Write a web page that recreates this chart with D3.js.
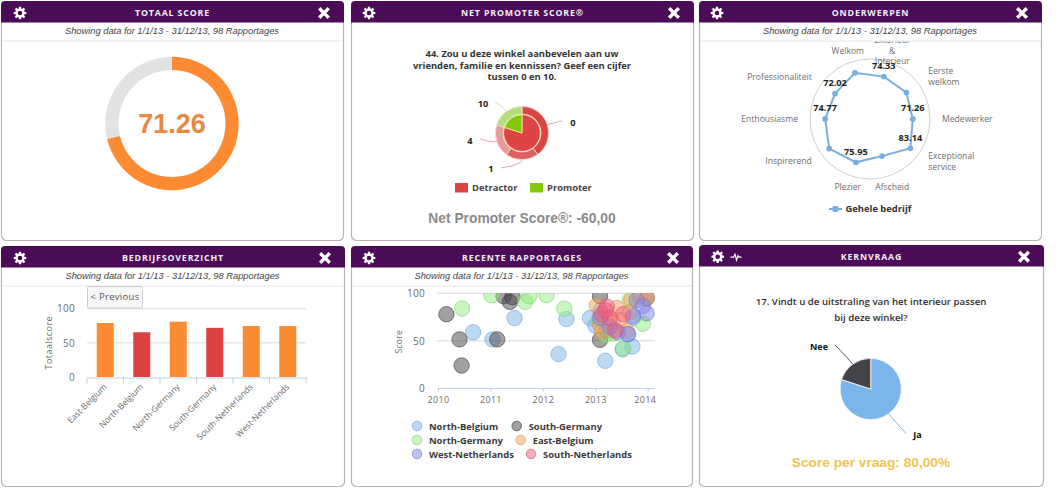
<!DOCTYPE html>
<html>
<head>
<meta charset="utf-8">
<script src="https://cdnjs.cloudflare.com/ajax/libs/d3/7.8.5/d3.min.js"></script>
<style>
  html, body { margin: 0; padding: 0; background: #fff; overflow: hidden; }
  svg { display: block; }
  text { font-family: "Liberation Sans", Arial, sans-serif; }
</style>
</head>
<body>
<svg id="board" width="1064" height="497"></svg>
<script>
// Dashboard values
const totalScore = 71.26;
const dateLine = "Showing data for 1/1/13 - 31/12/13, 98 Rapportages";

const npsQuestion = ["44. Zou u deze winkel aanbevelen aan uw", "vrienden, familie en kennissen? Geef een cijfer", "tussen 0 en 10."];
const npsGroups = ["Detractor", "Promoter"];
const npsGroupShares = [80, 20];
const npsAnswers = ["0", "1", "4", "10"];
const npsAnswerShares = [40, 20, 20, 20];
const npsScoreText = "Net Promoter Score®: -60,00";

const topics = [["Exterieur", "&", "Interieur"], ["Eerste", "welkom"], ["Medewerker"], ["Exceptional", "service"], ["Afscheid"], ["Plezier"], ["Inspirerend"], ["Enthousiasme"], ["Professionaliteit"], ["Welkom"]];
const topicScores = [74.33, 75, 71.26, 83.14, 65, 75.95, 84, 74.77, 72.02, 81];
const topicLabelled = [true, false, true, true, false, true, false, true, true, false];

const regions = ["East-Belgium", "North-Belgium", "North-Germany", "South-Germany", "South-Netherlands", "West-Netherlands"];
const regionScores = [79, 65.5, 81, 72, 74.7, 74.7];
const regionBelowTarget = [false, true, false, true, false, false];

const reportSeries = ["North-Belgium", "South-Germany", "North-Germany", "East-Belgium", "West-Netherlands", "South-Netherlands"];
const northBelgiumReports = [[2010.67, 59], [2011.04, 51.5], [2011.46, 74], [2012.3, 36], [2012.45, 73], [2012.9, 74], [2013.0, 66], [2013.19, 29], [2013.52, 41], [2013.71, 44], [2013.63, 57], [2013.72, 74], [2013.1, 82]];
const southGermanyReports = [[2010.16, 78], [2010.41, 51.5], [2010.45, 24], [2011.13, 51.5], [2011.25, 97], [2011.37, 91], [2011.42, 96], [2013.09, 51], [2013.09, 97], [2013.98, 95], [2013.22, 61]];
const northGermanyReports = [[2010.46, 84], [2011.02, 98], [2011.66, 91], [2011.74, 97], [2012.07, 98], [2012.41, 84], [2013.91, 68], [2013.53, 42], [2013.66, 93], [2013.35, 58], [2013.06, 72], [2013.19, 56]];
const eastBelgiumReports = [[2013.03, 87], [2013.6, 61], [2013.41, 84.5], [2013.09, 67], [2013.98, 95], [2013.69, 93], [2013.32, 70], [2013.19, 74], [2013.47, 72], [2013.66, 80], [2013.85, 97], [2013.12, 60]];
const westNetherlandsReports = [[2013.79, 93], [2013.91, 86.6], [2013.98, 79], [2013.62, 57], [2013.28, 64.5], [2013.09, 74], [2013.43, 59], [2013.72, 76]];
const southNetherlandsReports = [[2013.22, 86], [2013.12, 78], [2013.53, 78], [2013.38, 61], [2013.28, 74], [2013.2, 82]];
const reportValues = [northBelgiumReports, southGermanyReports, northGermanyReports, eastBelgiumReports, westNetherlandsReports, southNetherlandsReports];

const keyQuestion = ["17. Vindt u de uitstraling van het interieur passen", "bij deze winkel?"];
const keyAnswers = ["Ja", "Nee"];
const keyShares = [80, 20];
const keyScoreText = "Score per vraag: 80,00%";

// Shared styling
const PURPLE = "#4a0c57", ORANGE = "#fd8b33", RED = "#db4343";
const AXIS_TEXT = "#6b6b6b", LABEL_FONT = '"Open Sans", sans-serif';
const svg = d3.select("#board");
const defs = svg.append("defs");

function gearPath(r) {
  // Cog outline with eight teeth around a central hole
  const teeth = 8, pts = [];
  for (let i = 0; i < teeth; i++) {
    const a = i / teeth * 2 * Math.PI, w = 0.2;
    [[a - w * 1.5, r * 0.72], [a - w * 0.8, r], [a + w * 0.8, r], [a + w * 1.5, r * 0.72]]
      .forEach(([t, q]) => pts.push([q * Math.sin(t), -q * Math.cos(t)]));
  }
  const hole = r * 0.36;
  return "M" + pts.map(p => p.map(v => v.toFixed(2)).join(",")).join("L") + "Z" +
    `M${hole},0A${hole},${hole} 0 1,0 ${-hole},0A${hole},${hole} 0 1,0 ${hole},0Z`;
}

function panel({ id, x0, x1, y0, y1, title, subtitle, gearX, closeX, iconY }) {
  const g = svg.append("g").attr("id", id);
  g.append("rect").attr("x", x0 + 0.5).attr("y", y0 + 0.5).attr("width", x1 - x0).attr("height", y1 - y0)
    .attr("rx", 5).attr("fill", "#fff").attr("stroke", "#b5b5b5").attr("stroke-width", 1.2);
  const hh = 21.5;
  g.append("path").attr("fill", PURPLE)
    .attr("d", `M${x0},${y0 + hh}V${y0 + 4}Q${x0},${y0} ${x0 + 4},${y0}H${x1 + 1 - 4}Q${x1 + 1},${y0} ${x1 + 1},${y0 + 4}V${y0 + hh}Z`);
  g.append("text").attr("x", (x0 + x1) / 2 + 0.5).attr("y", y0 + 11.5).attr("dy", "0.35em")
    .attr("text-anchor", "middle").attr("fill", "#f4eef5")
    .style("font", `700 8.8px ${LABEL_FONT}`).style("letter-spacing", "0.85px").text(title);
  g.append("path").attr("transform", `translate(${gearX},${iconY})`).attr("d", gearPath(6.4))
    .attr("fill", "#fff").attr("fill-rule", "evenodd");
  const c = 3.6;
  g.append("path").attr("transform", `translate(${closeX},${iconY})`)
    .attr("d", `M${-c},${-c}L${c},${c}M${c},${-c}L${-c},${c}`)
    .attr("stroke", "#fff").attr("stroke-width", 3.4).attr("stroke-linecap", "square");
  if (subtitle) {
    g.append("text").attr("x", (x0 + x1) / 2).attr("y", y0 + 30).attr("dy", "0.35em").attr("text-anchor", "middle")
      .attr("fill", "#444").style("font-style", "italic").style("font-size", "9.3px").text(subtitle);
    g.append("line").attr("x1", x0 + 1).attr("x2", x1).attr("y1", y0 + 40).attr("y2", y0 + 40).attr("stroke", "#e6e6e6");
  }
  return g;
}

function multiline(g, lines, cx, firstY, step, font, fill) {
  g.selectAll(null).data(lines).join("text")
    .attr("x", cx).attr("y", (d, i) => firstY + i * step).attr("dy", "0.35em")
    .attr("text-anchor", "middle").attr("fill", fill).style("font", font).text(d => d);
}

// Leader line from a slice edge to its outside label
function leader(g, cx, cy, r, midAngle, lx, ly, colour) {
  const sx = cx + r * Math.sin(midAngle), sy = cy - r * Math.cos(midAngle);
  const ox = cx + (r + 5) * Math.sin(midAngle), oy = cy - (r + 5) * Math.cos(midAngle);
  g.append("path").attr("fill", "none").attr("stroke", colour).attr("stroke-width", 1)
    .attr("d", `M${sx},${sy}Q${ox},${oy} ${lx},${ly}`);
}

/* ---------- Totaal score ---------- */
{
  const g = panel({ id: "total", x0: 1, x1: 343, y0: 1, y1: 240, title: "TOTAAL SCORE", subtitle: dateLine, gearX: 20, closeX: 324, iconY: 13 });
  const c = g.append("g").attr("transform", "translate(172,123.5)");
  const ring = d3.arc().innerRadius(53.5).outerRadius(66.7);
  const turn = d3.scaleLinear().domain([0, 100]).range([0, 2 * Math.PI]);
  c.append("path").attr("fill", "#e2e2e2").attr("d", ring({ startAngle: turn(totalScore), endAngle: turn(100) }));
  c.append("path").attr("fill", ORANGE).attr("d", ring({ startAngle: 0, endAngle: turn(totalScore) }));
  c.append("text").attr("text-anchor", "middle").attr("dy", "0.36em").attr("fill", "#e8873f")
    .style("font-weight", 700).style("font-size", "27px").text(totalScore.toFixed(2));
}

/* ---------- Net Promoter Score ---------- */
{
  const g = panel({ id: "nps", x0: 351, x1: 693, y0: 1, y1: 240, title: "NET PROMOTER SCORE®", gearX: 369, closeX: 674, iconY: 13 });
  multiline(g, npsQuestion, 522, 54, 11.6, `700 9.4px ${LABEL_FONT}`, "#333");

  const cx = 522, cy = 133;
  const pie = d3.pie().sort(null).value(d => d);
  const outerCols = ["#d94545", "#de5f5f", "#e89a9a", "#b6dd7b"];
  const innerCols = ["#dd4545", "#85c80a"];
  const outerSlices = pie(npsAnswerShares);
  const c = g.append("g").attr("transform", `translate(${cx},${cy})`);
  c.selectAll(".outer").data(outerSlices).join("path").attr("class", "outer")
    .attr("d", d3.arc().innerRadius(19).outerRadius(26.7)).attr("fill", (d, i) => outerCols[i])
    .attr("stroke", "#fbe3d8").attr("stroke-width", 0.8);
  c.selectAll(".inner").data(pie(npsGroupShares)).join("path").attr("class", "inner")
    .attr("d", d3.arc().innerRadius(0).outerRadius(18.4)).attr("fill", (d, i) => innerCols[i])
    .attr("stroke", "#f6ecae").attr("stroke-width", 0.8);

  const labelAt = [[573, 123], [491, 169], [470, 141], [483, 104]];
  const ends = [[562, 121], [501, 168], [480, 139], [495.5, 102]];
  const leaderCols = ["#e9a3ad", "#e9a3ad", "#e9a3ad", "#e6d6b6"];
  outerSlices.forEach((s, i) => {
    leader(g, cx, cy, 26.7, (s.startAngle + s.endAngle) / 2, ends[i][0], ends[i][1], leaderCols[i]);
    g.append("text").attr("x", labelAt[i][0]).attr("y", labelAt[i][1]).attr("dy", "0.35em").attr("text-anchor", "middle")
      .attr("fill", "#222").style("font", `700 9.2px ${LABEL_FONT}`).text(npsAnswers[i]);
  });

  const keyX = [455, 530];
  npsGroups.forEach((name, i) => {
    g.append("rect").attr("x", keyX[i]).attr("y", 183).attr("width", 13).attr("height", 9.5).attr("fill", innerCols[i]);
    g.append("text").attr("x", keyX[i] + 17).attr("y", 188).attr("dy", "0.35em").attr("fill", "#444")
      .style("font", `700 9.4px ${LABEL_FONT}`).text(name);
  });
  g.append("text").attr("x", 522).attr("y", 218).attr("dy", "0.35em").attr("text-anchor", "middle").attr("fill", "#8a8a8a")
    .style("font-weight", 700).style("font-size", "13.8px").text(npsScoreText);
}

/* ---------- Onderwerpen radar ---------- */
{
  const g = panel({ id: "topics", x0: 699, x1: 1041, y0: 1, y1: 240, title: "ONDERWERPEN", subtitle: dateLine, gearX: 717, closeX: 1022, iconY: 13 });
  defs.append("clipPath").attr("id", "topicsBody").append("rect").attr("x", 699).attr("y", 41.5).attr("width", 342).attr("height", 198);
  const body = g.append("g").attr("clip-path", "url(#topicsBody)");
  const cx = 870, cy = 119, R = 60;
  const radius = d3.scaleLinear().domain([0, 100]).range([0, R]);
  const angle = d3.scalePoint().domain(d3.range(topics.length + 1)).range([Math.PI / 10, Math.PI / 10 + 2 * Math.PI]);
  const polar = (a, r) => [cx + r * Math.sin(a), cy - r * Math.cos(a)];

  body.append("circle").attr("cx", cx).attr("cy", cy).attr("r", R).attr("fill", "none").attr("stroke", "#cfcfcf");

  topics.forEach((lines, i) => {
    const a = angle(i), [x, y] = polar(a, 72), s = Math.sin(a);
    const anchor = Math.abs(s) < 0.4 ? "middle" : s > 0 ? "start" : "end";
    body.selectAll(null).data(lines).join("text")
      .attr("x", x).attr("y", (d, k) => y + (k - (lines.length - 1) / 2) * 10.7).attr("dy", "0.35em")
      .attr("text-anchor", anchor).attr("fill", "#6e6e6e").style("font", `8.6px ${LABEL_FONT}`).text(d => d);
  });

  const pts = topicScores.map((v, i) => polar(angle(i), radius(v)));
  body.append("path").attr("fill", "none").attr("stroke", "#7baee0").attr("stroke-width", 2)
    .attr("d", d3.line().curve(d3.curveLinearClosed)(pts));
  body.selectAll(".pt").data(pts).join("circle").attr("class", "pt")
    .attr("cx", d => d[0]).attr("cy", d => d[1]).attr("r", 2.9).attr("fill", "#7baee0");
  body.selectAll(".val").data(topicScores.map((v, i) => ({ v, i })).filter(d => topicLabelled[d.i])).join("text").attr("class", "val")
    .attr("x", d => pts[d.i][0]).attr("y", d => pts[d.i][1] - 11).attr("dy", "0.35em").attr("text-anchor", "middle")
    .attr("fill", "#222").style("font", `700 9.2px ${LABEL_FONT}`).text(d => d.v.toFixed(2));

  g.append("line").attr("x1", 829).attr("x2", 842).attr("y1", 209).attr("y2", 209).attr("stroke", "#7baee0").attr("stroke-width", 2);
  g.append("circle").attr("cx", 835.5).attr("cy", 209).attr("r", 3.3).attr("fill", "#7baee0");
  g.append("text").attr("x", 845.5).attr("y", 209).attr("dy", "0.35em").attr("fill", "#333")
    .style("font", `700 9.4px ${LABEL_FONT}`).text("Gehele bedrijf");
}

/* ---------- Bedrijfsoverzicht bars ---------- */
function styleAxisText(sel) {
  sel.attr("fill", AXIS_TEXT).style("font", `10px ${LABEL_FONT}`).style("letter-spacing", "0.3px");
}
{
  const g = panel({ id: "companies", x0: 1, x1: 344, y0: 246, y1: 486, title: "BEDRIJFSOVERZICHT", subtitle: dateLine, gearX: 20, closeX: 325, iconY: 258 });
  const x = d3.scaleBand().domain(regions).range([87, 306]);
  const y = d3.scaleLinear().domain([0, 100]).range([377, 308.7]);
  g.selectAll(".grid").data([50, 100]).join("line").attr("class", "grid")
    .attr("x1", 87).attr("x2", 306).attr("y1", d => y(d)).attr("y2", d => y(d)).attr("stroke", "#dcdcdc");
  const barWidth = 17;
  g.selectAll(".bar").data(regions).join("rect").attr("class", "bar")
    .attr("x", d => x(d) + (x.bandwidth() - barWidth) / 2).attr("width", barWidth)
    .attr("y", (d, i) => y(regionScores[i])).attr("height", (d, i) => y(0) - y(regionScores[i]))
    .attr("fill", (d, i) => regionBelowTarget[i] ? RED : ORANGE);

  const xAxis = g.append("g").attr("transform", "translate(0,377.5)").call(d3.axisBottom(x).tickSize(0).tickPadding(9));
  xAxis.select(".domain").attr("stroke", "#c0d0e0");
  xAxis.selectAll("text").call(styleAxisText).style("font-size", "8.5px").style("letter-spacing", "0")
    .attr("text-anchor", "end").attr("dy", "0.35em")
    .attr("transform", "rotate(-45)").attr("x", -5.5).attr("y", 5.5);
  xAxis.selectAll(".edge").data(d3.range(regions.length + 1)).join("line").attr("class", "edge")
    .attr("x1", i => x.range()[0] + i * x.step()).attr("x2", i => x.range()[0] + i * x.step())
    .attr("y1", 0).attr("y2", 6).attr("stroke", "#c0d0e0");

  const yAxis = g.append("g").attr("transform", "translate(87,0)").call(d3.axisLeft(y).tickValues([0, 50, 100]).tickSize(0).tickPadding(12));
  yAxis.select(".domain").remove();
  yAxis.selectAll("text").call(styleAxisText);
  g.append("text").attr("transform", "translate(49,342.7) rotate(-90)").attr("text-anchor", "middle").attr("dy", "0.35em")
    .call(styleAxisText).style("font-size", "9px").style("letter-spacing", "0.45px").text("Totaalscore");

  g.append("rect").attr("x", 87.5).attr("y", 286.5).attr("width", 55).attr("height", 21.5).attr("rx", 2)
    .attr("fill", "#f7f7f7").attr("stroke", "#cccccc");
  g.append("text").attr("x", 115).attr("y", 296.5).attr("dy", "0.35em").attr("text-anchor", "middle").attr("fill", "#555")
    .style("font", `9.5px ${LABEL_FONT}`).style("letter-spacing", "0.3px").text("< Previous");
}

/* ---------- Recente rapportages bubbles ---------- */
{
  const g = panel({ id: "reports", x0: 351, x1: 692, y0: 246, y1: 486, title: "RECENTE RAPPORTAGES", subtitle: dateLine, gearX: 369, closeX: 673, iconY: 258 });
  const x = d3.scaleLinear().domain([2010, 2014]).range([438, 647.7]);
  const y = d3.scaleLinear().domain([0, 100]).range([388.3, 293.3]);
  const fills = ["#7cb5ec", "#434348", "#90ed7d", "#f7a35c", "#8085e9", "#f15c80"];
  const edges = ["#6a9bcb", "#2e2e32", "#7acb6a", "#d48a4e", "#6d71c8", "#cf4e6d"];

  g.selectAll(".grid").data([50, 100]).join("line").attr("class", "grid")
    .attr("x1", 437).attr("x2", 655).attr("y1", d => y(d)).attr("y2", d => y(d)).attr("stroke", "#d8d8d8");

  defs.append("clipPath").attr("id", "reportPlot").append("rect").attr("x", 430).attr("y", y(100)).attr("width", 226).attr("height", y(0) - y(100));
  const plot = g.append("g").attr("clip-path", "url(#reportPlot)");
  reportValues.forEach((rows, s) => {
    plot.selectAll(`.s${s}`).data(rows).join("circle").attr("class", `s${s}`)
      .attr("cx", d => x(d[0])).attr("cy", d => y(d[1])).attr("r", 7.7)
      .attr("fill", fills[s]).attr("fill-opacity", 0.5).attr("stroke", edges[s]).attr("stroke-opacity", 0.55);
  });

  const xAxis = g.append("g").attr("transform", "translate(0,388.5)")
    .call(d3.axisBottom(x).tickValues([2010, 2011, 2012, 2013, 2014]).tickFormat(d3.format("d")).tickSize(3).tickPadding(5));
  xAxis.select(".domain").attr("stroke", "#c0d0e0").attr("d", "M437,0H655");
  xAxis.selectAll("line").attr("stroke", "#c0d0e0");
  xAxis.selectAll("text").call(styleAxisText).style("font-size", "9px");
  xAxis.selectAll(".tick:last-of-type text").attr("dx", -3);

  const yAxis = g.append("g").attr("transform", "translate(437,0)").call(d3.axisLeft(y).tickValues([0, 50, 100]).tickSize(0).tickPadding(12));
  yAxis.select(".domain").remove();
  yAxis.selectAll("text").call(styleAxisText);
  g.append("text").attr("transform", "translate(399,341.7) rotate(-90)").attr("text-anchor", "middle").attr("dy", "0.35em")
    .call(styleAxisText).style("font-size", "8.6px").text("Score");

  const keyPos = [[417, 426], [516.7, 426], [417, 440], [520.7, 440], [417, 454], [531, 454]];
  reportSeries.forEach((name, i) => {
    const [kx, ky] = keyPos[i];
    g.append("circle").attr("cx", kx).attr("cy", ky).attr("r", 4.8)
      .attr("fill", fills[i]).attr("fill-opacity", 0.5).attr("stroke", edges[i]).attr("stroke-opacity", 0.6);
    g.append("text").attr("x", kx + 12).attr("y", ky + 1).attr("dy", "0.35em").attr("fill", "#3a3a3a")
      .style("font", `700 9.4px ${LABEL_FONT}`).text(name);
  });
}

/* ---------- Kernvraag pie ---------- */
{
  const g = panel({ id: "key", x0: 699, x1: 1043, y0: 245, y1: 486, title: "KERNVRAAG", gearX: 717.7, closeX: 1024, iconY: 256.7 });
  g.append("path").attr("transform", "translate(736,256.7)").attr("fill", "none").attr("stroke", "#fff").attr("stroke-width", 1.2)
    .attr("d", "M-5.5,0.5H-2.5L-1,-2.5L0.5,3.5L2,-1L3,0.5H5.5");
  multiline(g, keyQuestion, 871, 302, 15.7, `600 9.7px ${LABEL_FONT}`, "#2f2f2f");

  const cx = 870.7, cy = 389, r = 30.7;
  const slices = d3.pie().sort(null).value(d => d)(keyShares);
  const cols = ["#7cb5ec", "#434348"];
  g.append("g").attr("transform", `translate(${cx},${cy})`).selectAll("path").data(slices).join("path")
    .attr("d", d3.arc().innerRadius(0).outerRadius(r)).attr("fill", (d, i) => cols[i]).attr("stroke", "#fff").attr("stroke-width", 0.8);

  const ends = [[906.5, 434], [835, 345]];
  const labelAt = [[917.5, 435], [819, 347]];
  slices.forEach((s, i) => {
    leader(g, cx, cy, r, (s.startAngle + s.endAngle) / 2, ends[i][0], ends[i][1], i ? "#4d4d52" : "#8fb8dd");
    g.append("text").attr("x", labelAt[i][0]).attr("y", labelAt[i][1]).attr("dy", "0.35em").attr("text-anchor", "middle")
      .attr("fill", "#111").style("font", `700 9px ${LABEL_FONT}`).text(keyAnswers[i]);
  });

  g.append("text").attr("x", 871).attr("y", 462).attr("dy", "0.35em").attr("text-anchor", "middle").attr("fill", "#f0c354")
    .style("font-weight", 700).style("font-size", "13.7px").text(keyScoreText);
}
</script>
</body>
</html>
